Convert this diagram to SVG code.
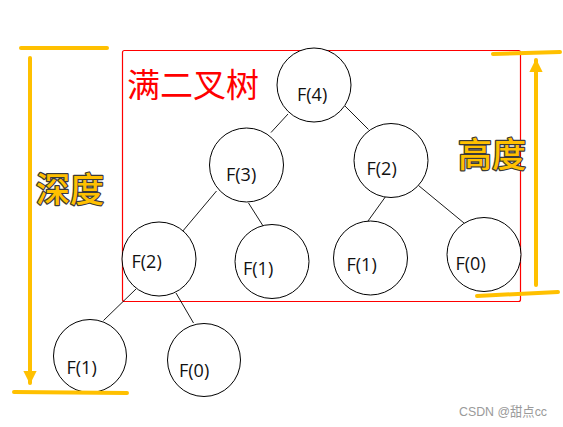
<svg xmlns="http://www.w3.org/2000/svg" width="563" height="427" viewBox="0 0 563 427">
<style>
.node circle{fill:#fff;stroke:#000;stroke-width:1}
.node text{font-family:"Open Sans","Noto Sans",sans-serif;font-size:18px;fill:#111}
.edge{stroke:#000;stroke-width:0.9;fill:none}
.ybar{stroke:#FFC000;stroke-width:4;stroke-linecap:round;fill:none}
.ylbl{font-family:"Noto Sans CJK SC","Noto Sans",sans-serif;font-size:34px;font-weight:500;fill:#FFC000;stroke:#3a3a3a;stroke-width:2.4;paint-order:stroke;stroke-linejoin:round}
</style>
<defs>
<marker id="ah" viewBox="0 0 10 10" refX="9" refY="5" markerWidth="3.8" markerHeight="3.3" markerUnits="strokeWidth" orient="auto">
<path d="M0,0 L10,5 L0,10 Z" fill="#FFC000"/>
</marker>
</defs>
<rect width="563" height="427" fill="#fff"/>
<rect id="frame" x="122.5" y="50.5" width="398" height="251" rx="2" fill="none" stroke="#FF0000" stroke-width="1.2"/>
<text x="127" y="97" font-family="Noto Sans CJK SC,Noto Sans,sans-serif" font-size="33" fill="#FF0000">满二叉树</text>
<g id="connectors">
<line class="edge" x1="288" y1="114" x2="271" y2="132.5"/>
<line class="edge" x1="345" y1="106" x2="368.5" y2="129.5"/>
<line class="edge" x1="216.5" y1="191" x2="182" y2="232"/>
<line class="edge" x1="248.5" y1="203" x2="265" y2="229"/>
<line class="edge" x1="386" y1="196" x2="368" y2="221"/>
<line class="edge" x1="418.5" y1="185.5" x2="464" y2="223"/>
<line class="edge" x1="136" y1="289" x2="103.5" y2="320.5"/>
<line class="edge" x1="176" y1="293" x2="193.5" y2="323"/>
</g>
<g id="n-f4" class="node"><circle cx="314" cy="85" r="37"/><text x="297" y="101">F(4)</text></g>
<g id="n-f3" class="node"><circle cx="246.5" cy="165" r="37"/><text x="226" y="181">F(3)</text></g>
<g id="n-f2a" class="node"><circle cx="391" cy="160.5" r="37"/><text x="366.5" y="175">F(2)</text></g>
<g id="n-f2b" class="node"><circle cx="159" cy="259" r="37"/><text x="131.5" y="268">F(2)</text></g>
<g id="n-f1a" class="node"><circle cx="272" cy="261.5" r="37"/><text x="243" y="275">F(1)</text></g>
<g id="n-f1b" class="node"><circle cx="370.5" cy="258" r="37"/><text x="346.5" y="271">F(1)</text></g>
<g id="n-f0a" class="node"><circle cx="484" cy="254.5" r="37"/><text x="455.5" y="270">F(0)</text></g>
<g id="n-f1c" class="node"><circle cx="90" cy="356" r="36.5"/><text x="66.5" y="374">F(1)</text></g>
<g id="n-f0b" class="node"><circle cx="204" cy="360" r="36.5"/><text x="179" y="377">F(0)</text></g>
<g id="depth">
<line class="ybar" x1="21" y1="48" x2="107" y2="48"/>
<line class="ybar" x1="30" y1="58" x2="30" y2="383" marker-end="url(#ah)"/>
<line class="ybar" x1="14" y1="392" x2="127" y2="393"/>
<text class="ylbl" x="36" y="202">深度</text>
</g>
<g id="height">
<line class="ybar" x1="493" y1="54" x2="560" y2="52"/>
<line class="ybar" x1="536" y1="285" x2="536" y2="60" marker-end="url(#ah)"/>
<line class="ybar" x1="477" y1="296" x2="558" y2="292"/>
<text class="ylbl" x="458" y="167">高度</text>
</g>
<text x="459" y="416" font-family="Liberation Sans,Noto Sans CJK SC,sans-serif" font-size="13" textLength="88" lengthAdjust="spacingAndGlyphs" fill="#9a9a9a">CSDN @甜点cc</text>
</svg>
